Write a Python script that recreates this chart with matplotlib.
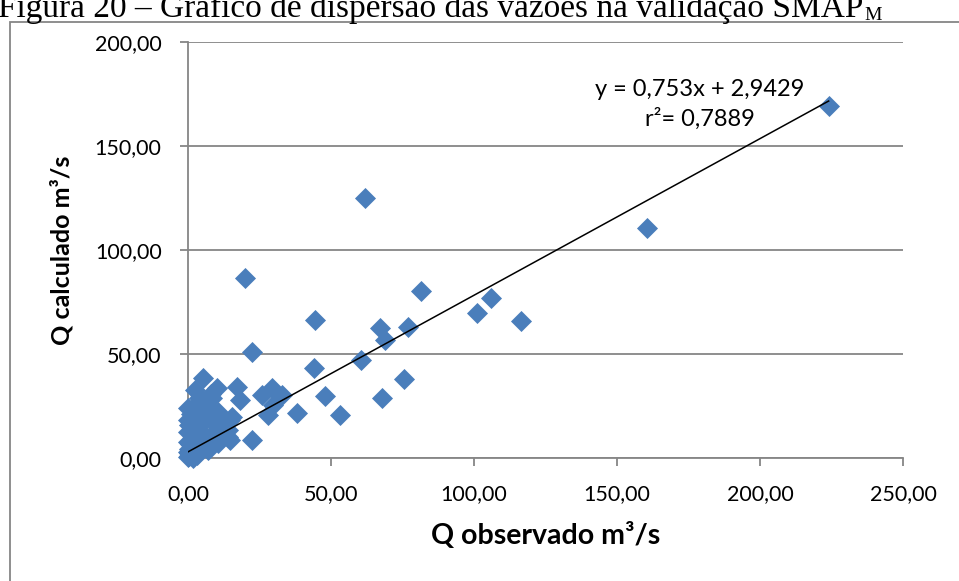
import numpy as np
import matplotlib
matplotlib.use("Agg")
import matplotlib.pyplot as plt
from matplotlib.patches import Rectangle
from matplotlib.ticker import FuncFormatter

# observed (x) and calculated (y) discharges, m3/s
q_obs = [224.0, 160.5, 62.0, 20.0, 81.5, 106.0, 101.0, 116.5, 44.5, 67.0,
         77.0, 69.0, 22.5, 60.5, 44.0, 75.5, 68.0, 48.0, 53.0, 38.0,
         28.0, 22.5, 17.0, 18.2, 29.3, 25.8, 32.8, 29.7, 15.3, 14.0,
         14.7, 5.4, 10.0, 2.4, 8.3, 3.6, 0.0, 10.6, 6.5, 0.1,
         14.7, 4.2, 10.6, 0.1, 8.3, 14.1, 0.0, 4.8, 10.6, 0.1,
         3.0, 7.1, 0.0, 1.9, 0.5, 1.0, 1.5, 2.0, 0.3, 1.0,
         2.5, 5.0, 6.0, 3.0, 9.0, 12.0, 7.0, 11.0, 4.0, 8.0,
         0.2, 0.8, 1.2, 0.4, 2.2, 3.5, 5.5, 1.6]
q_calc = [169.0, 110.5, 125.0, 86.5, 80.5, 77.0, 69.5, 66.0, 66.5, 62.5,
          63.0, 56.5, 51.0, 47.0, 43.5, 38.0, 29.0, 30.0, 20.5, 21.5,
          20.5, 8.5, 34.3, 27.9, 33.5, 30.3, 30.3, 25.5, 19.9, 13.5,
          8.7, 38.3, 33.5, 32.7, 28.7, 26.3, 23.9, 22.3, 20.7, 18.3,
          18.3, 15.9, 14.3, 12.6, 11.1, 10.2, 7.8, 6.3, 7.1, 3.0,
          1.4, 3.8, 0.6, 0.0, 1.0, 2.0, 5.0, 10.0, 16.0, 21.0,
          19.0, 12.0, 9.0, 4.0, 17.0, 16.0, 24.0, 19.0, 29.0, 31.0,
          4.5, 6.5, 8.5, 2.2, 14.0, 9.5, 22.0, 0.8]

# trendline reported on the chart
slope = 0.753
intercept = 2.9429
r2 = 0.7889

x_ticks = [0, 50, 100, 150, 200, 250]
y_ticks = [0, 50, 100, 150, 200]

fig = plt.figure(figsize=(9.59, 5.81), dpi=100)
ax = fig.add_axes([188 / 959, 1 - 458 / 581, 715 / 959, 416 / 581])

grey = "#868686"
ax.scatter(q_obs, q_calc, marker="D", s=115, color="#4a7ebb", linewidths=0,
           zorder=3, clip_on=False)

xl = np.array([min(q_obs), max(q_obs)])
ax.plot(xl, slope * xl + intercept, color="black", lw=1.1, zorder=4)

ax.set_xlim(0, 250)
ax.set_ylim(0, 200)
ax.set_xticks(x_ticks)
ax.set_yticks(y_ticks)
fmt = FuncFormatter(lambda v, p: f"{v:.2f}".replace(".", ","))
ax.xaxis.set_major_formatter(fmt)
ax.yaxis.set_major_formatter(fmt)

for s in ["top", "right"]:
    ax.spines[s].set_visible(False)
for s in ["left", "bottom"]:
    ax.spines[s].set_color(grey)
    ax.spines[s].set_linewidth(1.3)
ax.grid(axis="y", color=grey, lw=1.3)
ax.set_axisbelow(True)
ax.tick_params(axis="both", direction="out", length=6, width=1.3, color=grey,
               labelsize=15.5, labelcolor="black")
ax.tick_params(axis="x", pad=13)
ax.tick_params(axis="y", pad=13)
for lab in ax.get_xticklabels() + ax.get_yticklabels():
    lab.set_family("Lato")

ax.set_xlabel("Q observado m³/s", family="Lato", fontweight="bold",
              fontsize=20.5, labelpad=13)
ax.set_ylabel("Q calculado m³/s", family="Lato", fontweight="bold",
              fontsize=18, labelpad=15)

ax.text(179, 177, "y = 0,753x + 2,9429", family="Lato", fontsize=17,
        ha="center", va="center")
ax.text(179, 163, f"r²= {r2:.4f}".replace(".", ","), family="Lato",
        fontsize=17, ha="center", va="center")

# outer chart frame
fig.add_artist(Rectangle((10 / 959, -0.2), 1.2, 1.2 - 22 / 581,
                         transform=fig.transFigure, fill=False,
                         edgecolor=grey, lw=1.3))

cap = fig.text(-0.002, 1 - 17 / 581,
               "Figura 20 – Gráfico de dispersão das vazões na validação SMAP",
               family="Liberation Serif", fontsize=24, va="baseline", ha="left")
ax.annotate("M", xy=(1, 0), xycoords=cap, xytext=(1, 0),
            textcoords="offset points", family="Liberation Serif",
            fontsize=14, va="bottom", ha="left", annotation_clip=False)

fig.savefig("out.png", dpi=100)
